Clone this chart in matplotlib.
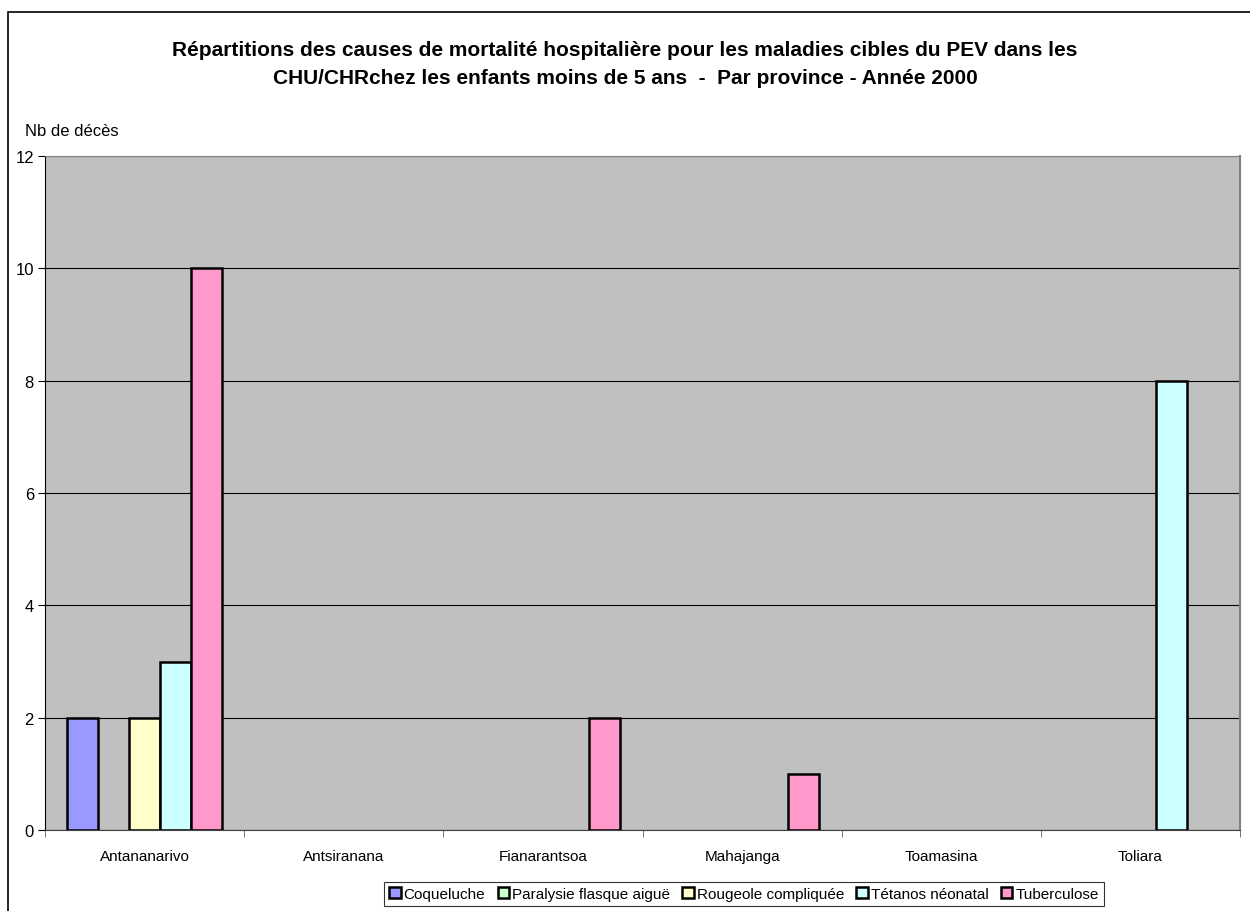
import matplotlib
matplotlib.use("Agg")
import matplotlib.pyplot as plt
import numpy as np
from matplotlib.patches import Rectangle

plt.rcParams['font.family'] = ['Liberation Sans', 'DejaVu Sans']

provinces = ["Antananarivo", "Antsiranana", "Fianarantsoa", "Mahajanga", "Toamasina", "Toliara"]
series_names = ["Coqueluche", "Paralysie flasque aiguë", "Rougeole compliquée", "Tétanos néonatal", "Tuberculose"]
coqueluche = [2, 0, 0, 0, 0, 0]
paralysie = [0, 0, 0, 0, 0, 0]
rougeole = [2, 0, 0, 0, 0, 0]
tetanos = [3, 0, 0, 0, 0, 8]
tuberculose = [10, 0, 2, 1, 0, 0]
colors = ["#9999FF", "#CCFFCC", "#FFFFCC", "#CCFFFF", "#FF99CC"]
yticks = [0, 2, 4, 6, 8, 10, 12]

fig = plt.figure(figsize=(12.5, 9.12), dpi=100)
fig.patches.append(Rectangle((8/1250, -0.1), 1.5, 1.1 - 13/912, transform=fig.transFigure,
                             fill=False, edgecolor='black', linewidth=1.2))
ax = fig.add_axes([45/1250, 81/912, 1195/1250, 674/912])
ax.set_facecolor("#C0C0C0")

x = np.arange(len(provinces))
w = 0.155
data = [coqueluche, paralysie, rougeole, tetanos, tuberculose]
for i, (vals, name, c) in enumerate(zip(data, series_names, colors)):
    vals = np.array(vals, dtype=float)
    lw = np.where(vals > 0, 1.8, 0.0)
    ax.bar(x + (i - 2) * w, vals, width=w, color=c, edgecolor='black', linewidth=lw, label=name, zorder=3)

ax.set_xlim(-0.5, len(provinces) - 0.5)
ax.set_ylim(0, 12)
ax.set_yticks(yticks)
ax.set_yticklabels([str(t) for t in yticks], fontsize=12)
ax.yaxis.grid(True, color='black', linewidth=0.8, zorder=0)
ax.set_axisbelow(True)
ax.set_xticks(x)
ax.set_xticklabels(provinces, fontsize=11)
ax.tick_params(axis='x', length=0, pad=14)
ax.set_xticks(np.arange(-0.5, len(provinces), 1), minor=True)
ax.tick_params(axis='x', which='minor', length=5, direction='out', color='#606060')
ax.tick_params(axis='y', length=5, direction='out', pad=3)
ax.spines['top'].set_color('#808080')
ax.spines['right'].set_color('#808080')
ax.spines['right'].set_linewidth(1.5)
ax.spines['left'].set_color('black')
ax.spines['bottom'].set_color('#404040')

fig.text(0.5, 1 - 65/912, "Répartitions des causes de mortalité hospitalière pour les maladies cibles du PEV dans les\nCHU/CHRchez les enfants moins de 5 ans  -  Par province - Année 2000",
         ha='center', va='center', fontsize=15, fontweight='bold', linespacing=1.6)
fig.text(25/1250, 1 - 132/912, "Nb de décès", ha='left', va='center', fontsize=12)

leg = fig.legend(loc='center', bbox_to_anchor=(744/1250, 1 - 895/912), ncol=5, fontsize=11,
                 frameon=True, fancybox=False, edgecolor='black', handlelength=0.75, handleheight=0.75,
                 handletextpad=0.2, columnspacing=0.8, borderpad=0.35, borderaxespad=0)
leg.get_frame().set_linewidth(0.8)
for h in leg.legend_handles:
    h.set_linewidth(1.8)
    h.set_edgecolor('black')

fig.savefig("out.png", dpi=100)
